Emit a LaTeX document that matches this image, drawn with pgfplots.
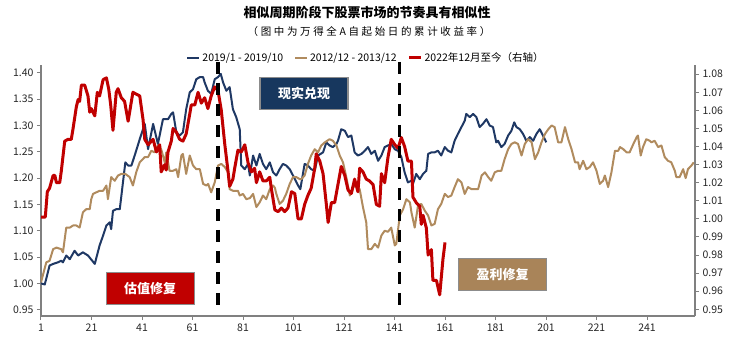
\documentclass[border=0pt]{standalone}
\usepackage{fontspec}
\setmainfont{Noto Sans CJK SC}
\newfontfamily\subfont{Noto Sans CJK SC}[LetterSpace=25]
\usepackage{pgfplots}
\pgfplotsset{compat=1.18}
\definecolor{navy}{HTML}{1F3864}
\definecolor{tanc}{HTML}{B08B5E}
\definecolor{cred}{HTML}{C00000}
\definecolor{boxnavy}{HTML}{17375E}
\definecolor{boxtan}{HTML}{A98459}
\definecolor{axgray}{HTML}{808080}
\begin{document}
\begin{tikzpicture}
\begin{axis}[
  name=a1, at={(0,0)}, anchor=south west, scale only axis,
  width=654bp, height=251bp,
  xmin=1, xmax=260, ymin=0.938, ymax=1.415,
  axis x line*=bottom, axis y line*=left,
  axis line style={draw=axgray, line width=1.5bp, -},
  tick style={draw=axgray, line width=1bp},
  major tick length=4bp, tick align=outside,
  xtick={1,21,41,61,81,101,121,141,161,181,201,221,241},
  ytick={0.95,1.00,1.05,1.10,1.15,1.20,1.25,1.30,1.35,1.40},
  yticklabel style={/pgf/number format/.cd, fixed, fixed zerofill, precision=2},
  /pgf/number format/assume math mode=true,
  ticklabel style={font=\fontsize{10.5bp}{12bp}\selectfont, text=black!85},
  legend style={at={(0.497,1.028)}, anchor=center, draw=none, fill=none,
    font=\fontsize{10.5bp}{12bp}\selectfont, legend columns=3,
    /tikz/every even column/.append style={column sep=9bp},
    inner sep=0pt},
  legend cell align=left,
  legend image code/.code={\draw[#1] (0bp,0bp) -- (12bp,0bp);},
]
\addplot[navy, line width=2bp, line join=round] coordinates {
(1,1.000)(2.5,0.998)(4.4,1.034)(5.8,1.037)(7.7,1.040)(9.0,1.043)(9.7,1.040)(11.0,1.053)(12.4,1.046)(14.3,1.062)(15.7,1.053)(17.6,1.059)(19.6,1.053)(22.3,1.037)(24.2,1.072)(25.6,1.091)(26.9,1.110)(28.2,1.116)(28.8,1.103)(29.5,1.138)(30.8,1.141)(32.2,1.141)(34.4,1.230)(35.5,1.224)(36.8,1.224)(38.1,1.243)(40.1,1.274)(42.1,1.303)(43.4,1.255)(45.4,1.303)(47.3,1.265)(49.3,1.312)(51.3,1.312)(52.6,1.322)(53.3,1.325)(54.6,1.287)(55.9,1.281)(57.2,1.287)(58.5,1.331)(59.9,1.363)(61.2,1.369)(62.5,1.388)(63.9,1.392)(65.2,1.392)(65.8,1.382)(67.1,1.366)(68.4,1.360)(69.8,1.388)(71.1,1.392)(72.2,1.398)(73.1,1.382)(74.4,1.366)(75.7,1.373)(77.0,1.331)(78.3,1.316)(79.7,1.293)(80.3,1.224)(81.7,1.217)(83.0,1.227)(83.7,1.205)(85.0,1.243)(86.3,1.224)(87.6,1.246)(88.9,1.227)(90.2,1.217)(91.6,1.230)(92.9,1.211)(94.2,1.205)(95.5,1.217)(96.8,1.227)(98.1,1.224)(99.5,1.217)(100.8,1.205)(102.8,1.186)(103.7,1.179)(105.4,1.227)(106.7,1.224)(108.0,1.217)(109.4,1.214)(110.7,1.243)(112.7,1.249)(114.0,1.268)(115.3,1.262)(116.6,1.259)(118.0,1.265)(118.6,1.271)(119.9,1.293)(121.3,1.290)(122.6,1.278)(123.9,1.281)(125.2,1.249)(126.5,1.243)(127.9,1.246)(129.2,1.252)(130.5,1.259)(131.8,1.246)(133.2,1.252)(134.5,1.233)(135.8,1.243)(137.1,1.259)(138.4,1.262)(139.7,1.265)(141.1,1.255)(142.4,1.252)(143.7,1.240)(145.0,1.211)(146.3,1.192)(147.7,1.195)(148.3,1.189)(149.6,1.208)(151.0,1.198)(152.3,1.208)(153.6,1.214)(154.3,1.246)(155.6,1.249)(156.9,1.249)(158.2,1.252)(159.5,1.243)(160.9,1.259)(162.2,1.252)(163.5,1.249)(164.8,1.271)(166.1,1.284)(167.5,1.297)(168.8,1.309)(169.4,1.322)(170.8,1.316)(172.1,1.322)(173.4,1.316)(174.7,1.297)(176.0,1.303)(177.4,1.312)(178.7,1.300)(180.0,1.297)(181.3,1.268)(182.0,1.271)(183.3,1.259)(184.6,1.265)(186.0,1.281)(187.3,1.290)(188.4,1.306)(189.3,1.297)(190.6,1.293)(191.9,1.284)(193.2,1.271)(194.6,1.278)(195.9,1.271)(197.2,1.284)(198.5,1.293)(199.8,1.281)(201.1,1.268)
};
\addlegendentry{2019/1 - 2019/10}
\addplot[tanc, line width=2bp, line join=round] coordinates {
(1,1.002)(3.1,1.040)(4.4,1.043)(5.8,1.065)(7.1,1.068)(9,1.065)(9.7,1.059)(11,1.106)(12.4,1.106)(13.7,1.110)(15,1.110)(16.3,1.106)(17.6,1.135)(18.9,1.141)(20.3,1.141)(20.9,1.160)(21.6,1.170)(22.9,1.173)(24.2,1.176)(25.6,1.176)(26.9,1.186)(27.5,1.160)(28.8,1.202)(30.2,1.195)(31.5,1.205)(32.8,1.208)(34.4,1.208)(36.1,1.202)(37.4,1.186)(38.7,1.211)(40.1,1.230)(42.1,1.240)(43.4,1.240)(44.7,1.252)(46,1.249)(47.3,1.262)(48.6,1.255)(50,1.230)(50.6,1.249)(51.9,1.214)(53.3,1.214)(54.6,1.217)(55.3,1.202)(56.6,1.243)(57.2,1.246)(58.5,1.208)(59.9,1.243)(61.2,1.224)(62.5,1.217)(63.9,1.217)(65.2,1.189)(66.5,1.186)(67.2,1.189)(68.4,1.173)(69.8,1.192)(71.1,1.224)(72.4,1.227)(73.8,1.221)(75.1,1.211)(75.7,1.179)(77,1.176)(79,1.176)(79.7,1.167)(81,1.170)(82.3,1.160)(83.7,1.162)(85,1.170)(86.3,1.145)(87.6,1.154)(88.9,1.167)(90.2,1.160)(91.6,1.179)(92.9,1.186)(93.6,1.182)(94.2,1.170)(95.5,1.151)(96.8,1.157)(98.1,1.170)(99.5,1.189)(100.8,1.202)(102.1,1.202)(103.5,1.198)(104.1,1.198)(105.4,1.205)(106.7,1.227)(108,1.243)(109.4,1.255)(110.7,1.249)(112,1.262)(113.4,1.268)(115.3,1.274)(116.6,1.271)(118,1.262)(119.3,1.243)(120.6,1.230)(121.9,1.202)(123.3,1.167)(124.6,1.183)(125.9,1.186)(127.2,1.179)(128.5,1.145)(129.8,1.116)(130.5,1.065)(131.8,1.065)(133.2,1.075)(134.5,1.068)(135.8,1.091)(137.1,1.100)(138.4,1.098)(139.7,1.106)(141.1,1.072)(141.7,1.075)(143.1,1.129)(144.4,1.141)(145.7,1.160)(147.1,1.154)(147.7,1.135)(149,1.106)(150.3,1.148)(151.6,1.151)(153,1.138)(154.3,1.129)(155.6,1.110)(156.9,1.113)(158.2,1.141)(159.5,1.151)(160.9,1.170)(162.2,1.164)(163.5,1.167)(164.8,1.183)(166.1,1.198)(167.5,1.192)(168.8,1.170)(170.1,1.183)(171.5,1.179)(174.1,1.179)(175.5,1.205)(176.8,1.211)(178.1,1.202)(179.3,1.195)(180.7,1.211)(182,1.214)(183.3,1.214)(184.6,1.236)(186,1.255)(187.3,1.265)(188.6,1.268)(189.9,1.265)(191.3,1.243)(192.6,1.265)(193.9,1.274)(195.3,1.268)(196.6,1.236)(197.9,1.249)(199.2,1.268)(200.6,1.284)(201.9,1.293)(203.2,1.300)(204.4,1.297)(205.8,1.268)(207.1,1.268)(208.5,1.297)(209.8,1.274)(211.1,1.255)(212.5,1.230)(213.7,1.230)(214.3,1.217)(215.7,1.233)(217,1.217)(218.3,1.221)(219.6,1.230)(221,1.214)(222.3,1.189)(223.6,1.195)(224.3,1.205)(225.6,1.183)(226.9,1.211)(228.3,1.252)(229.6,1.252)(230.3,1.259)(231.6,1.255)(232.9,1.249)(234.1,1.249)(235.6,1.265)(236.9,1.278)(237.4,1.281)(238.5,1.243)(239.4,1.259)(240.7,1.274)(242.1,1.271)(242.7,1.268)(244,1.271)(245.4,1.259)(246.7,1.262)(248,1.240)(249.3,1.233)(250.6,1.230)(252,1.214)(252.6,1.202)(253.9,1.202)(255.3,1.217)(256.3,1.200)(257.2,1.217)(258.6,1.224)(259.5,1.230)
};
\addlegendentry{2012/12 - 2013/12}
\addlegendimage{cred, line width=3bp}
\addlegendentry{2022年12月至今（右轴）}
\end{axis}
\begin{axis}[
  at={(a1.south west)}, anchor=south west, scale only axis,
  width=654bp, height=251bp,
  xmin=1, xmax=260, ymin=0.9463, ymax=1.0851,
  axis x line=none, axis y line*=right,
  axis line style={draw=axgray, line width=2bp, -},
  tick style={draw=axgray, line width=1bp},
  major tick length=4bp, tick align=outside,
  ytick={0.95,0.96,0.97,0.98,0.99,1.00,1.01,1.02,1.03,1.04,1.05,1.06,1.07,1.08},
  yticklabel style={/pgf/number format/.cd, fixed, fixed zerofill, precision=2},
  /pgf/number format/assume math mode=true,
  ticklabel style={font=\fontsize{10.5bp}{12bp}\selectfont, text=black!85},
  clip=false,
]
\addplot[cred, line width=3bp, line join=round] coordinates {
(1,1.001)(2.7,1.001)(3.5,1.015)(4.4,1.017)(5.8,1.024)(6.5,1.024)(7.1,1.020)(8.4,1.020)(9,1.026)(10.4,1.043)(11.7,1.044)(13,1.044)(13.7,1.050)(15,1.062)(15.7,1.066)(16.3,1.065)(17,1.074)(18.3,1.074)(19.6,1.068)(20.3,1.059)(20.9,1.061)(22.3,1.057)(23.3,1.070)(24.2,1.068)(25.6,1.077)(26.9,1.078)(27.8,1.072)(28.6,1.063)(29.5,1.049)(30.8,1.070)(31.5,1.072)(32.8,1.067)(34.1,1.065)(35.5,1.054)(37.4,1.070)(38.7,1.069)(40.1,1.068)(41.4,1.055)(42.1,1.044)(43.4,1.041)(45.4,1.044)(46.7,1.037)(48,1.041)(48.6,1.026)(50,1.030)(50.6,1.027)(51.3,1.037)(52.6,1.043)(53.3,1.050)(54.6,1.048)(55.9,1.044)(57.2,1.043)(58.5,1.047)(59.9,1.058)(60.5,1.063)(61.9,1.063)(63.2,1.070)(64.5,1.064)(65.8,1.067)(67.1,1.061)(68.4,1.068)(69.8,1.073)(71.1,1.071)(72.4,1.060)(73.8,1.041)(75.1,1.026)(75.7,1.018)(77,1.022)(77.7,1.028)(79,1.038)(80.3,1.037)(81.7,1.041)(83,1.031)(84.3,1.026)(85.6,1.028)(86.3,1.020)(87.6,1.026)(88.9,1.021)(90.2,1.021)(91.6,1.023)(92.2,1.017)(93.6,1.005)(94.9,1.004)(96.2,1.006)(97.5,1.004)(98.8,1.006)(100.2,1.015)(101.5,1.014)(102.8,1.000)(104.1,1.000)(105.4,1.008)(106.7,1.013)(108,1.017)(109.4,1.028)(110,1.036)(111.4,1.032)(112.7,1.025)(114,1.008)(114.7,0.998)(116,1.009)(117.3,1.009)(118.6,1.019)(119.9,1.029)(121.3,1.024)(122.6,1.016)(123.9,1.014)(125.2,1.022)(126.5,1.015)(127.2,1.028)(128.5,1.026)(129.8,1.022)(131.1,1.021)(132.5,1.019)(133.8,1.008)(135.1,1.007)(135.8,1.025)(137.1,1.020)(138.4,1.034)(139.7,1.044)(141.1,1.041)(142.4,1.039)(143.7,1.045)(145,1.040)(146.3,1.032)(147.7,1.032)(148.3,1.012)(149.6,1.009)(151,1.007)(151.6,0.997)(152.3,1.002)(153.6,0.995)(154.3,0.980)(155.6,0.983)(156.2,0.966)(157.6,0.966)(158.9,0.958)(160.2,0.978)(161,0.987)
};
\addplot[black, line width=3.8bp, dash pattern=on 12.5bp off 8.5bp, forget plot] coordinates {(71,1.0868)(71,0.9519)};
\addplot[black, line width=3.8bp, dash pattern=on 12.5bp off 8.5bp, forget plot] coordinates {(143,1.0868)(143,0.9519)};
\end{axis}
\begin{scope}[shift={(a1.south west)}, x=1bp, y=1bp]
\tikzset{box/.style={draw=black!45, line width=1.2bp, minimum width=88bp, minimum height=32bp, inner sep=0pt, text=white, font=\bfseries\fontsize{13bp}{15bp}\selectfont}}
\node[box, fill=boxnavy] at (263,222.7) {现实兑现};
\node[box, fill=cred] at (109.2,27.7) {估值修复};
\node[box, fill=boxtan] at (461.5,41.3) {盈利修复};
\node[font=\bfseries\fontsize{13bp}{15bp}\selectfont] at (326,304) {相似周期阶段下股票市场的节奏具有相似性};
\node[font=\subfont\fontsize{10.5bp}{12bp}\selectfont] at (328,284) {（图中为万得全A自起始日的累计收益率）};
\pgfresetboundingbox
\path[use as bounding box] (-41,-21) rectangle (689,316);
\end{scope}
\end{tikzpicture}
\end{document}
